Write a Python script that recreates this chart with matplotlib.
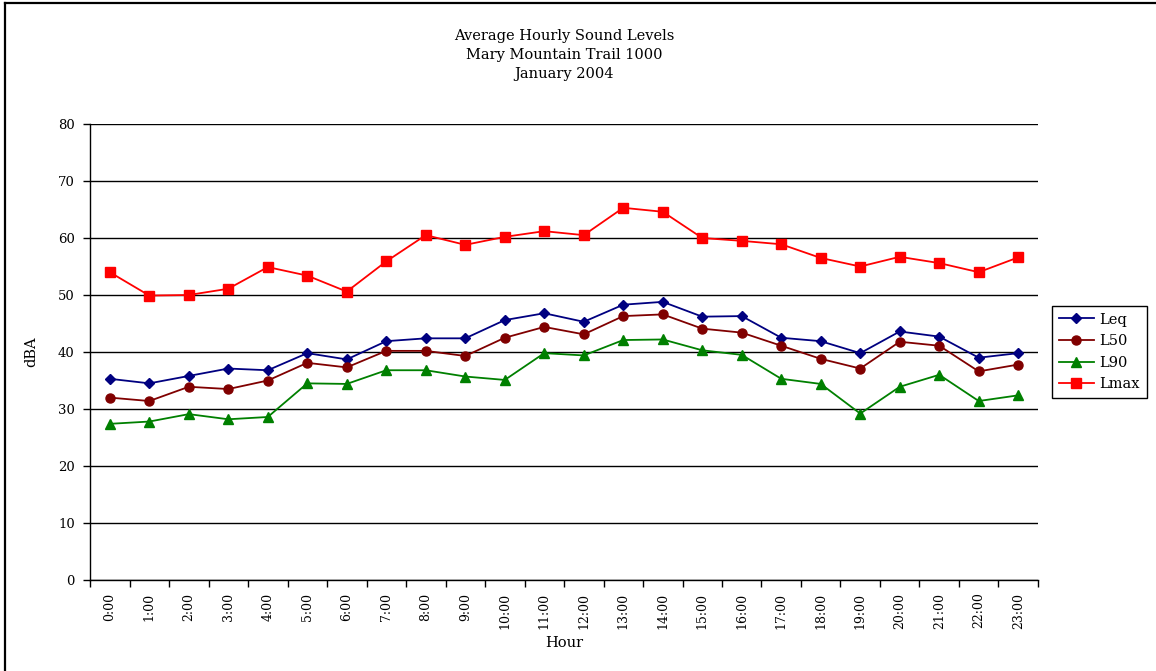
import matplotlib
matplotlib.use("Agg")
import matplotlib.pyplot as plt
from matplotlib.lines import Line2D

hours = [f"{h}:00" for h in range(24)]
leq = [35.3, 34.5, 35.8, 37.1, 36.8, 39.8, 38.7, 41.9, 42.4, 42.4, 45.6, 46.8,
       45.3, 48.3, 48.8, 46.2, 46.3, 42.5, 41.9, 39.8, 43.6, 42.7, 39.0, 39.8]
l50 = [32.0, 31.4, 33.9, 33.5, 35.0, 38.1, 37.3, 40.2, 40.2, 39.3, 42.5, 44.4,
       43.1, 46.3, 46.6, 44.1, 43.4, 41.1, 38.8, 37.1, 41.8, 41.1, 36.6, 37.8]
l90 = [27.4, 27.8, 29.1, 28.2, 28.6, 34.5, 34.4, 36.8, 36.8, 35.7, 35.1, 39.8,
       39.4, 42.1, 42.2, 40.3, 39.5, 35.3, 34.4, 29.2, 33.9, 36.0, 31.4, 32.4]
lmax = [54.0, 49.9, 50.0, 51.1, 54.9, 53.4, 50.6, 55.9, 60.5, 58.8, 60.2, 61.2,
        60.5, 65.3, 64.6, 60.0, 59.5, 58.9, 56.5, 55.0, 56.7, 55.6, 54.0, 56.6]
series_names = ["Leq", "L50", "L90", "Lmax"]
y_ticks = [0, 10, 20, 30, 40, 50, 60, 70, 80]

serif = ["DejaVu Serif"]
plt.rcParams["font.family"] = serif

fig = plt.figure(figsize=(11.56, 6.71), dpi=100)
# page edge lines along the top and left
W, H = 1156, 671
fig.add_artist(Line2D([5 / W, 1.0], [1 - 3 / H, 1 - 3 / H], transform=fig.transFigure,
                      color="black", linewidth=1.6))
fig.add_artist(Line2D([5 / W, 5 / W], [0.0, 1 - 3 / H], transform=fig.transFigure,
                      color="black", linewidth=1.6))

ax = fig.add_axes([0.0779, 0.1356, 0.8200, 0.6796])

x = list(range(len(hours)))
styles = [
    (leq, "#000080", "D", 5),
    (l50, "#800000", "o", 6.5),
    (l90, "#008000", "^", 6.5),
    (lmax, "#FF0000", "s", 6.5),
]
for (vals, col, mk, ms), name in zip(styles, series_names):
    ax.plot(x, vals, color=col, marker=mk, markersize=ms, linewidth=1.3,
            markerfacecolor=col, markeredgecolor=col, label=name)

ax.set_xlim(-0.5, len(hours) - 0.5)
ax.set_ylim(0, 80)
ax.set_yticks(y_ticks)
ax.set_yticklabels([str(v) for v in y_ticks], fontsize=9.5)
ax.set_xticks(x)
ax.set_xticklabels(hours, rotation=90, fontsize=9)
ax.tick_params(axis="x", length=0, pad=9)
ax.set_xticks([i - 0.5 for i in range(len(hours) + 1)], minor=True)
ax.tick_params(axis="x", which="minor", length=5, width=1, direction="out")
ax.tick_params(axis="y", length=5, width=1, direction="out", pad=6)

ax.grid(axis="y", color="black", linewidth=1)
ax.set_axisbelow(True)
for s in ["top", "right"]:
    ax.spines[s].set_visible(False)
ax.spines["left"].set_linewidth(1)
ax.spines["bottom"].set_linewidth(1)

ax.set_xlabel("Hour", fontsize=10.5, labelpad=5)
ax.set_ylabel("dBA", fontsize=10.5, labelpad=14)
ax.set_title("Average Hourly Sound Levels\nMary Mountain Trail 1000\nJanuary 2004",
             fontsize=10.5, pad=33, linespacing=1.45)

leg = ax.legend(loc="upper left", bbox_to_anchor=(1.015, 0.601), fontsize=10.5,
                frameon=True, fancybox=False, edgecolor="black", framealpha=1,
                handlelength=2.4, handletextpad=0.4, borderpad=0.45, labelspacing=0.52,
                borderaxespad=0)
leg.get_frame().set_linewidth(1)

fig.savefig("out.png", dpi=100)
